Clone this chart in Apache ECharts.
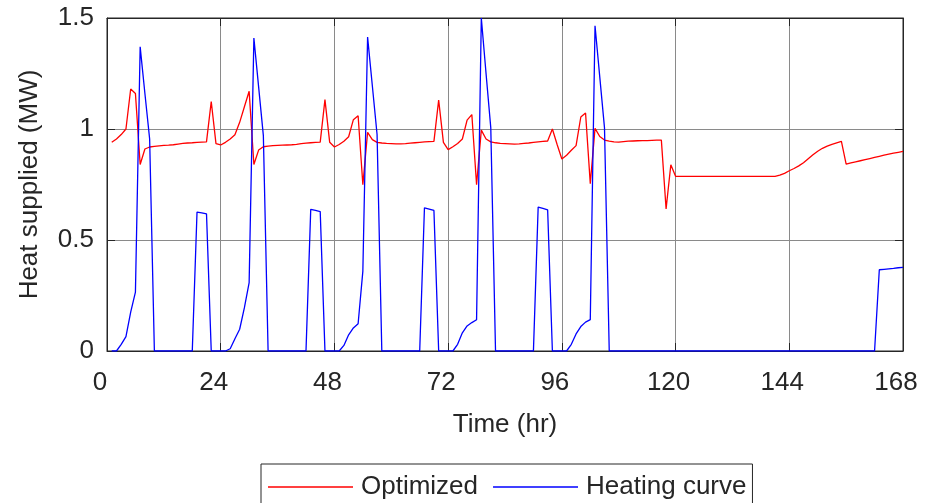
<!DOCTYPE html>
<html>
<head>
<meta charset="utf-8">
<script src="https://cdn.jsdelivr.net/npm/echarts@6/dist/echarts.min.js"></script>
<style>
html,body{margin:0;padding:0;background:#fff;}
#chart{width:927px;height:503px;}
</style>
</head>
<body>
<div id="chart"></div>
<script>
// Hourly values, first sample at hour 1
const startHour = 1;
const xTicks = [0, 24, 48, 72, 96, 120, 144, 168];
const yTicks = [0, 0.5, 1, 1.5];
const seriesNames = ['Optimized', 'Heating curve'];

const optimized = [
  0.94, 0.955, 0.975, 1.0, 1.18, 1.16, 0.84, 0.91, 0.919, 0.922, 0.924, 0.926,
  0.927, 0.929, 0.932, 0.935, 0.937, 0.938, 0.94, 0.941, 0.942, 1.124, 0.934, 0.928,
  0.94, 0.955, 0.974, 1.03, 1.1, 1.17, 0.84, 0.905, 0.92, 0.923, 0.925, 0.926,
  0.927, 0.928, 0.929, 0.931, 0.934, 0.936, 0.938, 0.94, 0.941, 1.132, 0.94, 0.919,
  0.93, 0.945, 0.965, 1.042, 1.06, 0.749, 0.985, 0.952, 0.94, 0.937, 0.935, 0.934,
  0.933, 0.933, 0.934, 0.936, 0.938, 0.94, 0.942, 0.943, 0.944, 1.13, 0.94, 0.907,
  0.92, 0.935, 0.955, 1.04, 1.065, 0.749, 0.995, 0.955, 0.942, 0.938, 0.935, 0.934,
  0.933, 0.932, 0.933, 0.935, 0.937, 0.94, 0.942, 0.944, 0.946, 1.0, 0.93, 0.865,
  0.882, 0.904, 0.925, 1.054, 1.072, 0.754, 1.003, 0.966, 0.95, 0.945, 0.942, 0.941,
  0.943, 0.945, 0.946, 0.947, 0.948, 0.948, 0.949, 0.95, 0.95, 0.64, 0.839, 0.787,
  0.787, 0.787, 0.787, 0.787, 0.787, 0.787, 0.787, 0.787, 0.787, 0.787, 0.787, 0.787,
  0.787, 0.787, 0.787, 0.787, 0.787, 0.787, 0.787, 0.787, 0.787, 0.792, 0.8, 0.812,
  0.822, 0.834, 0.848, 0.866, 0.884, 0.9, 0.913, 0.923, 0.931, 0.938, 0.944, 0.842,
  0.847, 0.852, 0.857, 0.862, 0.867, 0.872, 0.877, 0.882, 0.887, 0.891, 0.895, 0.899
];

const heatingCurve = [
  0, 0, 0.03, 0.065, 0.175, 0.265, 1.37, 1.16, 0.955, 0, 0, 0,
  0, 0, 0, 0, 0, 0, 0.626, 0.622, 0.618, 0, 0, 0,
  0, 0.01, 0.055, 0.098, 0.195, 0.308, 1.41, 1.19, 0.97, 0, 0, 0,
  0, 0, 0, 0, 0, 0, 0.638, 0.633, 0.628, 0, 0, 0,
  0, 0.025, 0.073, 0.104, 0.123, 0.36, 1.414, 1.195, 0.975, 0, 0, 0,
  0, 0, 0, 0, 0, 0, 0.645, 0.639, 0.633, 0, 0, 0,
  0, 0.03, 0.082, 0.113, 0.128, 0.141, 1.5, 1.25, 1.005, 0, 0, 0,
  0, 0, 0, 0, 0, 0, 0.648, 0.642, 0.636, 0, 0, 0,
  0, 0.03, 0.077, 0.11, 0.13, 0.141, 1.465, 1.235, 1.005, 0, 0, 0,
  0, 0, 0, 0, 0, 0, 0, 0, 0, 0, 0, 0,
  0, 0, 0, 0, 0, 0, 0, 0, 0, 0, 0, 0,
  0, 0, 0, 0, 0, 0, 0, 0, 0, 0, 0, 0,
  0, 0, 0, 0, 0, 0, 0, 0, 0, 0, 0, 0,
  0, 0, 0, 0, 0, 0, 0.366, 0.368, 0.37, 0.372, 0.375, 0.377
];

const toPairs = arr => arr.map((v, i) => [startHour + i, v]);

const FONT = '"Liberation Sans", Arial, sans-serif';
const TXT = '#262626';
const GRIDC = '#8a8a8a';

const chart = echarts.init(document.getElementById('chart'), null, {renderer: 'canvas'});

const xBase = {
  type: 'value', min: xTicks[0], max: xTicks[xTicks.length - 1], interval: 24,
  axisLine: {show: true, onZero: false, lineStyle: {color: TXT, width: 1}},
  axisTick: {show: true, inside: true, length: 8, lineStyle: {color: TXT}},
};
const yBase = {
  type: 'value', min: yTicks[0], max: yTicks[yTicks.length - 1], interval: 0.5,
  axisLine: {show: true, onZero: false, lineStyle: {color: TXT, width: 1}},
  axisTick: {show: true, inside: true, length: 8, lineStyle: {color: TXT}},
};

chart.setOption({
  animation: false,
  backgroundColor: '#ffffff',
  grid: {left: 107, right: 24, top: 18, bottom: 152, show: true, borderColor: TXT, borderWidth: 1},
  legend: {
    data: seriesNames.map(n => ({name: n, icon: 'rect'})),
    left: 261, top: 464,
    orient: 'horizontal',
    itemWidth: 85, itemHeight: 1.4, itemGap: 15,
    padding: [10, 6, 10, 7],
    borderColor: TXT, borderWidth: 1,
    textStyle: {fontFamily: FONT, fontSize: 26, color: TXT, padding: [0, 0, 0, 3]}
  },
  xAxis: [
    Object.assign({}, xBase, {
      position: 'bottom',
      name: 'Time (hr)', nameLocation: 'middle', nameGap: 61,
      nameTextStyle: {fontFamily: FONT, fontSize: 26, color: TXT},
      axisLabel: {show: true, margin: 19, fontFamily: FONT, fontSize: 26, color: TXT,
        padding: [0, 14, 0, 0]},
      splitLine: {show: true, lineStyle: {color: GRIDC, width: 1}}
    }),
    Object.assign({}, xBase, {
      position: 'top', axisLabel: {show: false}, splitLine: {show: false}
    })
  ],
  yAxis: [
    Object.assign({}, yBase, {
      position: 'left',
      name: 'Heat supplied (MW)', nameLocation: 'middle', nameGap: 64,
      nameTextStyle: {fontFamily: FONT, fontSize: 26, color: TXT},
      axisLabel: {show: true, margin: 13, fontFamily: FONT, fontSize: 26, color: TXT,
        formatter: v => String(v)},
      splitLine: {show: true, lineStyle: {color: GRIDC, width: 1}}
    }),
    Object.assign({}, yBase, {
      position: 'right', axisLabel: {show: false}, splitLine: {show: false}
    })
  ],
  series: [
    {
      name: seriesNames[0], type: 'line', data: toPairs(optimized),
      xAxisIndex: 0, yAxisIndex: 0,
      symbol: 'none', showSymbol: false,
      lineStyle: {color: '#ff0000', width: 1.3}, itemStyle: {color: '#ff0000'},
      z: 3
    },
    {
      name: seriesNames[1], type: 'line', data: toPairs(heatingCurve),
      xAxisIndex: 0, yAxisIndex: 0,
      symbol: 'none', showSymbol: false,
      lineStyle: {color: '#0000ff', width: 1.3}, itemStyle: {color: '#0000ff'},
      z: 4
    }
  ]
});
</script>
</body>
</html>
